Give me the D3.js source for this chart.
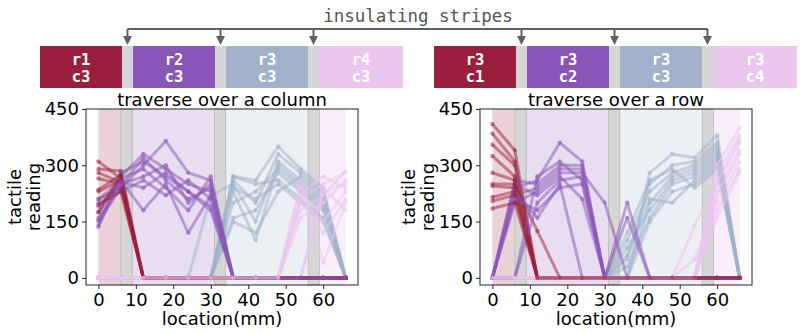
<!DOCTYPE html>
<html>
<head>
<meta charset="utf-8">
<script src="https://cdn.jsdelivr.net/npm/d3@7"></script>
<style>
  body { margin: 0; background: #fff; }
  text { font-family: "DejaVu Sans", sans-serif; }
  .mono { font-family: "DejaVu Sans Mono", monospace; }
</style>
</head>
<body>
<svg class="chart" width="800" height="334"></svg>
<script>
var svg = d3.select(".chart");

// sample positions along the strip (mm)
var xs = [0, 6, 12, 18, 24, 30, 36, 42, 48, 54, 60, 66];
var xTicks = [0, 10, 20, 30, 40, 50, 60];
var yTicks = [0, 150, 300, 450];

// region borders (mm) and what sits between them
var regionStops = [0, 6, 9, 31, 34, 56, 59, 66];
var regionKinds = ["red", "gap", "purple", "gap", "blue", "gap", "pink"];

var colors = {red: "#9b1f3c", purple: "#8a55b8", blue: "#a0b1c9", pink: "#ebc6ef", gap: "#d6d6d6"};

var colCells = [["r1", "c3"], ["r2", "c3"], ["r3", "c3"], ["r4", "c3"]];
var rowCells = [["r3", "c1"], ["r3", "c2"], ["r3", "c3"], ["r3", "c4"]];

// traverse over a column
var colRed = [
  [310, 265, 0, 0, 0, 0, 0, 0, 0, 0, 0, 0],
  [290, 285, 0, 0, 0, 0, 0, 0, 0, 0, 0, 0],
  [280, 255, 0, 0, 0, 0, 0, 0, 0, 0, 0, 0],
  [265, 250, 0, 0, 0, 0, 0, 0, 0, 0, 0, 0],
  [235, 275, 0, 0, 0, 0, 0, 0, 0, 0, 0, 0],
  [230, 260, 0, 0, 0, 0, 0, 0, 0, 0, 0, 0],
  [210, 240, 0, 0, 0, 0, 0, 0, 0, 0, 0, 0],
  [195, 230, 0, 0, 0, 0, 0, 0, 0, 0, 0, 0],
  [175, 270, 0, 0, 0, 0, 0, 0, 0, 0, 0, 0]
];
var colPurple = [
  [140, 270, 330, 290, 250, 230, 0, 0, 0, 0, 0, 0],
  [150, 240, 300, 365, 280, 260, 0, 0, 0, 0, 0, 0],
  [160, 260, 180, 250, 120, 220, 0, 0, 0, 0, 0, 0],
  [175, 280, 310, 270, 230, 180, 0, 0, 0, 0, 0, 0],
  [190, 250, 270, 300, 200, 250, 0, 0, 0, 0, 0, 0],
  [200, 230, 260, 220, 260, 210, 0, 0, 0, 0, 0, 0],
  [135, 265, 290, 240, 180, 270, 0, 0, 0, 0, 0, 0],
  [210, 255, 240, 280, 230, 190, 0, 0, 0, 0, 0, 0],
  [155, 245, 320, 260, 210, 240, 0, 0, 0, 0, 0, 0]
];
var colBlue = [
  [0, 0, 0, 0, 0, 0, 270, 260, 350, 290, 240, 0],
  [0, 0, 0, 0, 0, 0, 260, 200, 330, 280, 230, 0],
  [0, 0, 0, 0, 0, 220, 250, 150, 310, 260, 210, 0],
  [0, 0, 0, 0, 0, 0, 230, 100, 300, 250, 200, 0],
  [0, 0, 0, 0, 0, 0, 200, 230, 290, 240, 190, 0],
  [0, 0, 0, 0, 0, 0, 160, 180, 280, 230, 180, 0],
  [0, 0, 0, 0, 0, 0, 270, 250, 260, 210, 160, 0],
  [0, 0, 0, 0, 0, 0, 240, 210, 250, 200, 150, 0],
  [0, 0, 0, 0, 0, 0, 150, 120, 230, 270, 220, 0]
];
var colPink = [
  [0, 0, 0, 0, 0, 0, 0, 0, 0, 210, 250, 280],
  [0, 0, 0, 0, 0, 0, 0, 0, 0, 220, 270, 240],
  [0, 0, 0, 0, 0, 0, 0, 0, 0, 0, 230, 250],
  [0, 0, 0, 0, 0, 0, 0, 0, 0, 160, 200, 260],
  [0, 0, 0, 0, 0, 0, 0, 0, 0, 200, 150, 230],
  [0, 0, 0, 0, 0, 0, 0, 0, 0, 240, 120, 210],
  [0, 0, 0, 0, 0, 0, 0, 0, 0, 0, 240, 180],
  [0, 0, 0, 0, 0, 0, 0, 0, 0, 260, 40, 200],
  [0, 0, 0, 0, 0, 0, 0, 0, 0, 180, 220, 285]
];

// traverse over a row
var rowRed = [
  [410, 340, 0, 0, 0, 0, 0, 0, 0, 0, 0, 0],
  [385, 310, 0, 0, 0, 0, 0, 0, 0, 0, 0, 0],
  [355, 300, 0, 0, 0, 0, 0, 0, 0, 0, 0, 0],
  [325, 270, 0, 0, 0, 0, 0, 0, 0, 0, 0, 0],
  [280, 260, 0, 0, 0, 0, 0, 0, 0, 0, 0, 0],
  [250, 250, 125, 0, 0, 0, 0, 0, 0, 0, 0, 0],
  [245, 240, 0, 0, 0, 0, 0, 0, 0, 0, 0, 0],
  [215, 230, 0, 0, 0, 0, 0, 0, 0, 0, 0, 0],
  [205, 220, 0, 0, 0, 0, 0, 0, 0, 0, 0, 0],
  [185, 200, 0, 0, 0, 0, 0, 0, 0, 0, 0, 0]
];
var rowPurple = [
  [0, 240, 260, 360, 310, 0, 0, 0, 0, 0, 0, 0],
  [0, 260, 250, 300, 300, 0, 0, 0, 0, 0, 0, 0],
  [0, 220, 240, 290, 290, 0, 0, 0, 0, 0, 0, 0],
  [0, 200, 230, 280, 280, 200, 0, 0, 0, 0, 0, 0],
  [0, 250, 220, 270, 210, 0, 200, 0, 0, 0, 0, 0],
  [0, 0, 200, 260, 270, 0, 0, 0, 0, 0, 0, 0],
  [0, 230, 160, 250, 0, 0, 160, 0, 0, 0, 0, 0],
  [0, 0, 270, 310, 260, 0, 0, 0, 0, 0, 0, 0],
  [0, 210, 180, 240, 250, 0, 0, 0, 0, 0, 0, 0]
];
var rowBlue = [
  [0, 0, 0, 0, 0, 0, 0, 280, 330, 320, 380, 0],
  [0, 0, 0, 0, 0, 0, 50, 250, 300, 310, 360, 0],
  [0, 0, 0, 0, 0, 0, 100, 230, 280, 300, 350, 0],
  [0, 0, 0, 0, 0, 0, 0, 200, 270, 290, 340, 0],
  [0, 0, 0, 0, 0, 0, 80, 180, 260, 280, 330, 0],
  [0, 0, 0, 0, 0, 0, 30, 160, 250, 270, 320, 0],
  [0, 0, 0, 0, 0, 0, 0, 150, 230, 250, 300, 0],
  [0, 0, 0, 0, 0, 0, 120, 260, 290, 240, 290, 0],
  [0, 0, 0, 0, 0, 0, 60, 210, 200, 260, 310, 0]
];
var rowPink = [
  [0, 0, 0, 0, 0, 0, 0, 0, 0, 0, 300, 400],
  [0, 0, 0, 0, 0, 0, 0, 0, 0, 0, 280, 380],
  [0, 0, 0, 0, 0, 0, 0, 0, 0, 0, 260, 370],
  [0, 0, 0, 0, 0, 0, 0, 0, 0, 140, 250, 360],
  [0, 0, 0, 0, 0, 0, 0, 0, 0, 0, 230, 340],
  [0, 0, 0, 0, 0, 0, 0, 0, 0, 0, 220, 330],
  [0, 0, 0, 0, 0, 0, 0, 0, 0, 50, 200, 310],
  [0, 0, 0, 0, 0, 0, 0, 0, 0, 0, 180, 290],
  [0, 0, 0, 0, 0, 0, 0, 0, 0, 0, 160, 280]
];

// ---- top strip diagram ----
var cellW = 82, gapW = 11, cellTop = 46, cellH = 42, arrowY = 29;
var cellKinds = ["red", "purple", "blue", "pink"];

function drawStrip(x0, cells) {
  var g = svg.append("g");
  var arrows = [];
  cells.forEach(function(c, i) {
    var cx = x0 + i * (cellW + gapW);
    var w = i == cells.length - 1 ? cellW + 2 : cellW;
    g.append("rect").attr("x", cx).attr("y", cellTop).attr("width", w).attr("height", cellH)
      .attr("fill", colors[cellKinds[i]]);
    if (i < cells.length - 1) {
      g.append("rect").attr("x", cx + cellW).attr("y", cellTop).attr("width", gapW).attr("height", cellH)
        .attr("fill", colors.gap);
      arrows.push(cx + cellW + gapW / 2);
    }
    g.append("text").attr("class", "mono").attr("x", cx + w / 2).attr("y", cellTop + 19)
      .attr("text-anchor", "middle").attr("font-size", 15.5).attr("font-weight", "bold")
      .attr("fill", "#fff").text(c[0]);
    g.append("text").attr("class", "mono").attr("x", cx + w / 2).attr("y", cellTop + 36)
      .attr("text-anchor", "middle").attr("font-size", 15.5).attr("font-weight", "bold")
      .attr("fill", "#fff").text(c[1]);
  });
  return arrows;
}

var arrowXs = drawStrip(40, colCells).concat(drawStrip(434, rowCells));

var ann = svg.append("g").attr("stroke", "#606060").attr("fill", "#606060");
ann.append("line").attr("x1", d3.min(arrowXs)).attr("x2", d3.max(arrowXs))
  .attr("y1", arrowY).attr("y2", arrowY).attr("stroke-width", 2);
arrowXs.forEach(function(ax) {
  ann.append("line").attr("x1", ax).attr("x2", ax).attr("y1", arrowY).attr("y2", cellTop - 6)
    .attr("stroke-width", 2);
  ann.append("path").attr("stroke", "none")
    .attr("d", "M" + (ax - 4.5) + "," + (cellTop - 10) + "L" + (ax + 4.5) + "," + (cellTop - 10) + "L" + ax + "," + (cellTop - 1) + "Z");
});
svg.append("text").attr("class", "mono").attr("x", 418).attr("y", 22)
  .attr("text-anchor", "middle").attr("font-size", 17.5).attr("fill", "#555")
  .text("insulating stripes");

// ---- the two panels ----
var plotW = 272, plotTop = 109, plotBottom = 285;

function run(left, title, series) {
  var x = d3.scaleLinear().domain([-3.3, 69.3]).range([left, left + plotW]);
  var y = d3.scaleLinear().domain([-19, 450]).range([plotBottom, plotTop]);
  var g = svg.append("g");

  // shaded regions
  regionKinds.forEach(function(k, i) {
    g.append("rect")
      .attr("x", x(regionStops[i])).attr("width", x(regionStops[i + 1]) - x(regionStops[i]))
      .attr("y", plotTop).attr("height", plotBottom - plotTop)
      .attr("fill", colors[k])
      .attr("fill-opacity", k == "gap" ? 1 : (k == "pink" ? 0.3 : 0.2))
      .attr("stroke", k == "gap" ? "#b8b8b8" : "none").attr("stroke-width", 0.8);
  });

  var line = d3.line().x(function(d, i) { return x(xs[i]); }).y(function(d) { return y(d); });

  function drawTrace(kind, tr) {
    var sg = g.append("g");
    sg.append("path").datum(tr).attr("d", line)
      .attr("fill", "none").attr("stroke", colors[kind])
      .attr("stroke-width", 3).attr("stroke-opacity", 0.5)
      .attr("stroke-linejoin", "round");
    sg.selectAll(null).data(tr).enter().append("circle")
      .attr("cx", function(d, i) { return x(xs[i]); })
      .attr("cy", function(d) { return y(d); })
      .attr("r", 2.2).attr("fill", colors[kind]).attr("fill-opacity", 0.5);
  }

  // blue first, then red / purple / pink trials interleaved
  series.blue.forEach(function(tr) { drawTrace("blue", tr); });
  var nTrials = d3.max([series.red.length, series.purple.length, series.pink.length]);
  for (var t = 0; t < nTrials; t++) {
    ["red", "purple", "pink"].forEach(function(k) {
      if (series[k][t]) drawTrace(k, series[k][t]);
    });
  }

  // frame
  g.append("rect").attr("x", left).attr("y", plotTop).attr("width", plotW)
    .attr("height", plotBottom - plotTop).attr("fill", "none").attr("stroke", "#222").attr("stroke-width", 1);

  var ax = g.append("g").attr("transform", "translate(0," + plotBottom + ")")
    .call(d3.axisBottom(x).tickValues(xTicks).tickSize(4).tickSizeOuter(0).tickPadding(4));
  var ay = g.append("g").attr("transform", "translate(" + left + ",0)")
    .call(d3.axisLeft(y).tickValues(yTicks).tickSize(4).tickSizeOuter(0).tickPadding(3));
  [ax, ay].forEach(function(a) {
    a.select(".domain").remove();
    a.selectAll("text").attr("font-size", 18).attr("fill", "#000")
      .style("font-family", "'DejaVu Sans', sans-serif");
    a.selectAll("line").attr("stroke", "#222");
  });

  var cx = left + plotW / 2;
  g.append("text").attr("x", cx).attr("y", 106).attr("text-anchor", "middle")
    .attr("font-size", 18).text(title);
  g.append("text").attr("x", cx).attr("y", 325).attr("text-anchor", "middle")
    .attr("font-size", 18).text("location(mm)");

  var ymid = (plotTop + plotBottom) / 2;
  var yl = g.append("text").attr("transform", "translate(" + (left - 65) + "," + ymid + ") rotate(-90)")
    .attr("text-anchor", "middle").attr("font-size", 18);
  yl.append("tspan").attr("x", 0).attr("y", 0).text("tactile");
  yl.append("tspan").attr("x", 0).attr("y", 19).text("reading");
}

run(86, "traverse over a column", {red: colRed, purple: colPurple, blue: colBlue, pink: colPink});
run(480, "traverse over a row", {red: rowRed, purple: rowPurple, blue: rowBlue, pink: rowPink});
</script>
</body>
</html>
